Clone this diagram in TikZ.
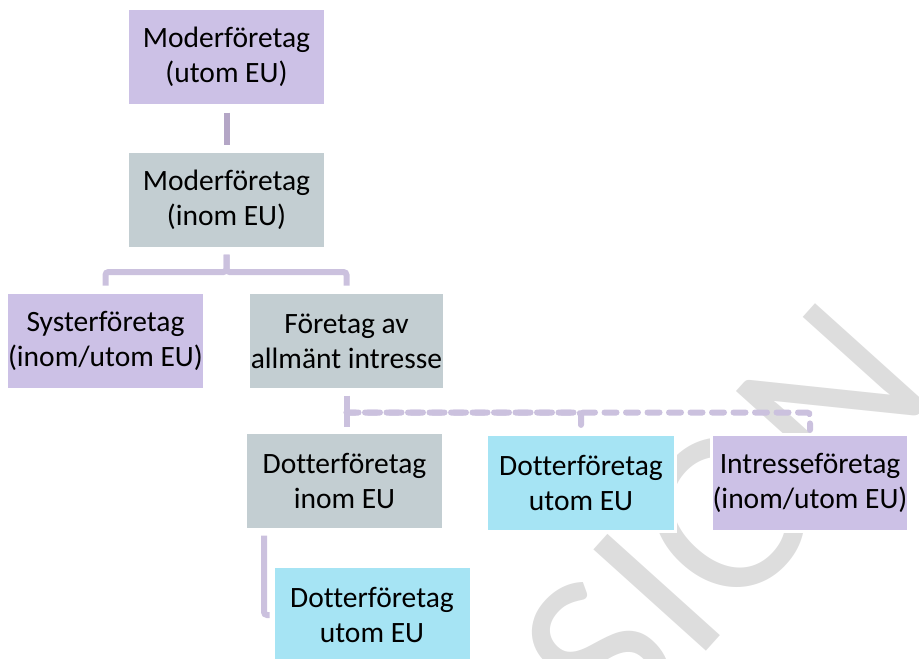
\documentclass[tikz,border=0pt]{standalone}
\usepackage{fontspec}
\setmainfont{Carlito}[Ligatures=NoCommon]
\usetikzlibrary{positioning}
\definecolor{lila}{RGB}{204,193,230}
\definecolor{gra}{RGB}{195,206,210}
\definecolor{bla}{RGB}{166,228,244}
\definecolor{linje}{RGB}{203,193,222}
\definecolor{linjem}{RGB}{180,166,198}
\definecolor{vm}{RGB}{221,221,221}

\begin{document}
\begin{tikzpicture}[x=1pt,y=-1pt]
\tikzstyle{box}=[rectangle,draw=white,line width=3pt,minimum width=198pt,minimum height=97pt,align=center,inner sep=1pt,font=\fontsize{29.5}{35}\selectfont]
\tikzstyle{con}=[draw=linje,line width=6pt,rounded corners=3pt]
\tikzstyle{stip}=[con,line cap=round,dash pattern=on 12pt off 9.5pt]
\useasboundingbox (0,0) rectangle (919,659);
% watermark
\begin{scope}
\clip (0,0) rectangle (919,659);
\node[rotate=48,anchor=base east,inner sep=0pt,text=vm,font=\fontsize{236}{236}\selectfont] (wm) at (940,392) {VERSION};
\end{scope}
% boxes
\node[box,fill=lila] (mu) at (226.5,57) {Moderföretag\\(utom EU)};
\node[box,fill=gra] (mi) at (226.5,199.5) {Moderföretag\\(inom EU)};
\node[box,fill=lila] (sys) at (105.5,341) {Systerföretag\\(inom/utom EU)};
\node[box,fill=gra,minimum width=196pt] (fai) at (346.5,341) {Företag av\\allmänt intresse};
\node[box,fill=gra] (di) at (344.5,481) {Dotterföretag\\inom EU};
\node[box,fill=bla,minimum width=189pt] (du) at (581,483) {Dotterföretag\\utom EU};
\node[box,fill=lila,minimum width=195pt] (int) at (810,483) {Intresseföretag\\(inom/utom EU)};
\node[box,fill=bla] (du2) at (372,615) {Dotterföretag\\utom EU};
% connectors
\draw[con,draw=linjem] ([yshift=-5.5pt]mu.south) -- ([yshift=5pt]mi.north);
\draw[con] ([yshift=-5pt]mi.south) -- ++(0,17.5) -| ([yshift=5.5pt]sys.north);
\draw[con] ([yshift=-5pt]mi.south) -- ++(0,17.5) -| ([yshift=5.5pt]fai.north);
\draw[con] ([yshift=-4.5pt]fai.south) -- ([yshift=4.5pt]fai.south |- di.north);
\draw[stip,dash phase=3pt] ([yshift=-4.5pt]fai.south) ++(0,17) -| ([yshift=4.5pt]du.north);
\draw[stip] ([yshift=-4.5pt]fai.south) ++(0,17) -| ([yshift=3pt]int.north);
\draw[con] ([xshift=20pt,yshift=-4.5pt]di.south west) |- ([xshift=-2pt]du2.west);
\end{tikzpicture}
\end{document}
